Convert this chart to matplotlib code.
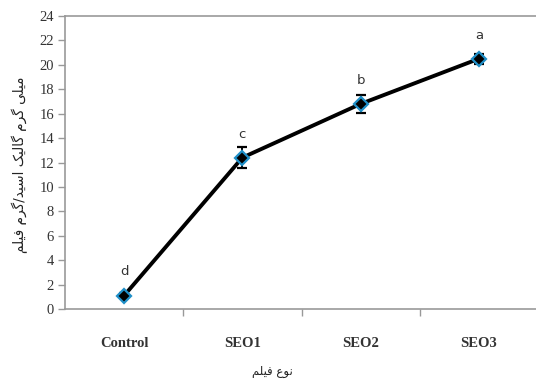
import matplotlib
matplotlib.use("Agg")
import matplotlib.pyplot as plt

# data
films = ["Control", "SEO1", "SEO2", "SEO3"]
phenol = [1.1, 12.4, 16.8, 20.5]
phenol_err = [0.2, 0.85, 0.75, 0.4]
groups = ["d", "c", "b", "a"]
yticks = list(range(0, 25, 2))

xlabel_fa = "نوع فیلم"
ylabel_fa = "میلی گرم گالیک اسید/گرم فیلم"

# minimal Persian shaping (matplotlib has no complex text layout)
FORMS = {
    "ا": ("\uFE8D", "\uFE8E", None, None),
    "د": ("\uFEA9", "\uFEAA", None, None),
    "ر": ("\uFEAD", "\uFEAE", None, None),
    "و": ("\uFEED", "\uFEEE", None, None),
    "س": ("\uFEB1", "\uFEB2", "\uFEB3", "\uFEB4"),
    "ع": ("\uFEC9", "\uFECA", "\uFECB", "\uFECC"),
    "ف": ("\uFED1", "\uFED2", "\uFED3", "\uFED4"),
    "ل": ("\uFEDD", "\uFEDE", "\uFEDF", "\uFEE0"),
    "م": ("\uFEE1", "\uFEE2", "\uFEE3", "\uFEE4"),
    "ن": ("\uFEE5", "\uFEE6", "\uFEE7", "\uFEE8"),
    "ک": ("\uFB8E", "\uFB8F", "\uFB90", "\uFB91"),
    "گ": ("\uFB92", "\uFB93", "\uFB94", "\uFB95"),
    "ی": ("\uFBFC", "\uFBFD", "\uFBFE", "\uFBFF"),
}


def shape(s):
    out = []
    for i, ch in enumerate(s):
        if ch not in FORMS:
            out.append(ch)
            continue
        prev = s[i - 1] if i > 0 else ""
        nxt = s[i + 1] if i + 1 < len(s) else ""
        join_prev = prev in FORMS and FORMS[prev][2] is not None
        join_next = nxt in FORMS and FORMS[ch][2] is not None
        iso, fin, ini, med = FORMS[ch]
        if join_prev and join_next:
            out.append(med)
        elif join_prev:
            out.append(fin)
        elif join_next:
            out.append(ini)
        else:
            out.append(iso)
    return "".join(out)[::-1]


fig = plt.figure(figsize=(5.36, 3.80), dpi=100)
ax = fig.add_axes([65 / 536, 1 - 309 / 380, 473 / 536, 293 / 380])

x = list(range(len(films)))
ax.errorbar(x, phenol, yerr=phenol_err, color="black", lw=2.8,
            ecolor="black", elinewidth=1.4, capsize=3.5, capthick=1.4,
            marker="D", ms=7.5, mfc="black", mec="#1f8fc8", mew=1.6, zorder=3)

for xi, yi, g in zip(x, phenol, groups):
    ax.annotate(g, (xi, yi), xytext=(0, 17), textcoords="offset points",
                ha="center", va="center", fontsize=9.5, color="#333333",
                family="DejaVu Sans")

ax.set_xlim(-0.5, 3.5)
ax.set_ylim(0, 24)
ax.set_yticks(yticks)
ax.set_xticks(x)
ax.set_xticklabels(films, family="Liberation Serif", fontweight="bold",
                   fontsize=10.5, color="#333333")
ax.set_yticklabels([str(t) for t in yticks], family="Liberation Serif",
                   fontsize=10.5, color="#333333")
ax.set_xticks([0.5, 1.5, 2.5], minor=True)
ax.tick_params(axis="x", which="major", length=0, pad=20)
ax.tick_params(axis="x", which="minor", length=5, color="#999999", width=1)
ax.tick_params(axis="y", length=5, color="#999999", width=1, pad=3)

for side in ["left", "bottom", "top"]:
    ax.spines[side].set_color("#999999")
    ax.spines[side].set_linewidth(1.2)
ax.spines["right"].set_visible(False)

fig.text(272 / 536, 1 - 372 / 380, shape(xlabel_fa), ha="center",
         va="center", fontsize=8.5, family="DejaVu Sans", color="#222222")
fig.text(20 / 536, 1 - 165 / 380, shape(ylabel_fa), ha="center",
         va="center", rotation=90, fontsize=9.8, family="DejaVu Sans",
         color="#222222")

fig.savefig("out.png", dpi=100)
